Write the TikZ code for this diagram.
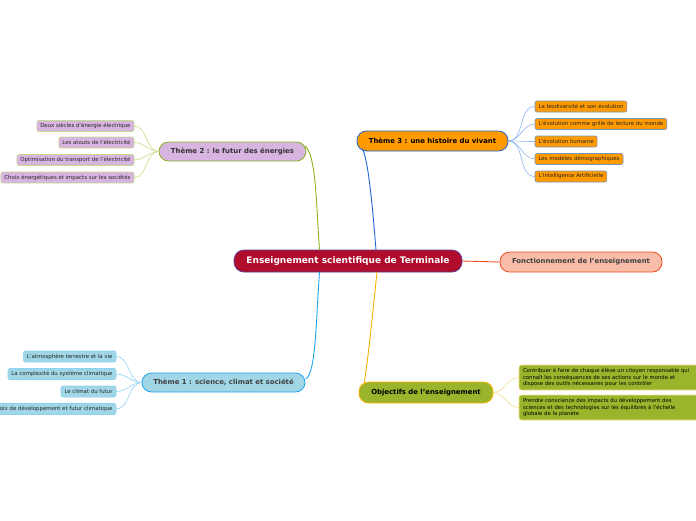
\documentclass[tikz,border=0pt]{standalone}
\usepackage{fontspec}
\setmainfont{DejaVu Sans}
\begin{document}
\begin{tikzpicture}[x=1pt,y=-1pt,
  every node/.style={inner sep=0pt, outer sep=0pt},
  mainbox/.style={draw=#1, line width=0.8pt, rounded corners=10pt, font=\fontsize{9}{10}\selectfont\bfseries, align=center},
  themebox/.style={draw=#1, line width=0.8pt, rounded corners=9.5pt, font=\fontsize{6.9}{8}\selectfont\bfseries, align=center},
  leafbox/.style={draw=#1, line width=0.6pt, rounded corners=2pt, font=\fontsize{5.4}{6.4}\selectfont, minimum height=11pt, inner xsep=3.5pt},
  textbox/.style={draw=#1, line width=0.6pt, rounded corners=2.5pt, font=\fontsize{5.3}{6.9}\selectfont, align=left, inner xsep=4pt, anchor=north west},
  conn/.style={draw=#1, line width=0.9pt},
  thin/.style={draw=#1, line width=0.6pt}
]
\definecolor{cred}{HTML}{B00C2C}
\definecolor{cblue}{HTML}{1E64D2}
\definecolor{corange}{HTML}{FF9A00}
\definecolor{cgreen}{HTML}{8CB21E}
\definecolor{clav}{HTML}{D8B4E0}
\definecolor{lgreen}{HTML}{C4DC88}
\definecolor{cltblue}{HTML}{A0D6E6}
\definecolor{csky}{HTML}{1EA4EC}
\definecolor{lsky}{HTML}{8CD2F4}
\definecolor{colive}{HTML}{9AB42C}
\definecolor{cyellow}{HTML}{F8B400}
\definecolor{lyellow}{HTML}{F8DC8C}
\definecolor{csalmon}{HTML}{F8BCA8}
\definecolor{cored}{HTML}{F0501E}
\definecolor{lblue}{HTML}{8CB4F0}
\definecolor{leafborder}{HTML}{7896C0}

\useasboundingbox (0,0) rectangle (696,520);

% central
\node[mainbox=cblue!60!cred, fill=cred, text=white, minimum width=228pt, minimum height=22pt] (c) at (348,261) {Enseignement scientifique de Terminale};

% themes
\node[themebox=cblue, fill=corange, minimum width=151pt, minimum height=20pt] (t3) at (432.5,141) {Thème 3 : une histoire du vivant};
\node[themebox=cgreen, fill=clav, text=black!80, minimum width=147pt, minimum height=19pt] (t2) at (232.5,151.5) {Thème 2 : le futur des énergies};
\node[themebox=csky, fill=cltblue, text=black!75, minimum width=163pt, minimum height=19pt] (t1) at (223.5,382.5) {Thème 1 : science, climat et société};
\node[themebox=cyellow, fill=colive, minimum width=134pt, minimum height=21pt] (ob) at (426,392.5) {Objectifs de l'enseignement};
\node[themebox=cored, fill=csalmon, text=black!75, font=\fontsize{6.9}{8}\selectfont\bfseries, minimum width=162pt, minimum height=20pt] (fo) at (581,262) {Fonctionnement de l'enseignement};

% main connectors
\coordinate (c3) at (376,250);
\coordinate (c2) at (319.5,250);
\coordinate (c1) at (319.5,272);
\coordinate (co) at (377,272);
\coordinate (e3) at (362.5,149);
\coordinate (e2) at (305,146);
\coordinate (e1) at (306,379);
\coordinate (eo) at (364,384);
\draw[conn=cblue] (c3) .. controls (372,200) and (368,160) .. (e3);
\draw[conn=cgreen] (c2) .. controls (316,200) and (316,155) .. (e2);
\draw[conn=csky] (c1) .. controls (316,320) and (316,372) .. (e1);
\draw[conn=cyellow] (co) .. controls (372,320) and (368,360) .. (eo);
\draw[conn=cored] (c.east) -- (fo.west);

% theme 3 leaves
\begin{scope}[every node/.append style={leafbox=leafborder, fill=corange, anchor=west, text=black!85}]
\node (a1) at (535,106.5) {La biodiversité et son évolution};
\node (a2) at (535,124) {L'évolution comme grille de lecture du monde};
\node (a3) at (535,141.5) {L'évolution humaine};
\node (a4) at (535,159) {Les modèles démographiques};
\node (a5) at (535,176.5) {L'intelligence Artificielle};
\end{scope}
\foreach \n in {a1,a2,a3,a4,a5}
  \draw[thin=lblue] (t3.east) to[out=0,in=180] (\n.west);

% theme 2 leaves
\begin{scope}[every node/.append style={leafbox=lgreen, fill=clav, anchor=east, text=black!85}]
\node (b1) at (134,126) {Deux siècles d'énergie électrique};
\node (b2) at (134,142.5) {Les atouts de l'électricité};
\node (b3) at (134,160) {Optimisation du transport de l'électricité};
\node (b4) at (134,177.5) {Choix énergétiques et impacts sur les sociétés};
\end{scope}
\foreach \n in {b1,b2,b3,b4}
  \draw[thin=lgreen] (t2.west) to[out=180,in=0] (\n.east);

% theme 1 leaves
\begin{scope}[every node/.append style={leafbox=lsky, fill=cltblue, anchor=east, text=black!85}]
\node (d1) at (116,356.5) {L'atmosphère terrestre et la vie};
\node (d2) at (116,374) {La complexité du système climatique};
\node (d3) at (116,391.5) {Le climat du futur};
\node (d4) at (116,409) {Choix de développement et futur climatique};
\end{scope}
\foreach \n in {d1,d2,d3,d4}
  \draw[thin=lsky] (t1.west) to[out=180,in=0] (\n.east);

% objectives leaves
\node[textbox=lyellow, fill=colive, text width=180pt, minimum height=25pt] (o1) at (519,365) {Contribuer à faire de chaque élève un citoyen responsable qui\\ connaît les conséquences de ses actions sur le monde et\\ dispose des outils nécessaires pour les contrôler};
\node[textbox=lyellow, fill=colive, text width=180pt, minimum height=25pt] (o2) at (519,395) {Prendre conscience des impacts du développement des\\ sciences et des technologies sur les équilibres à l'échelle\\ globale de la planète};
\draw[thin=lyellow] (ob.east) to[out=0,in=180] (o1.west);
\draw[thin=lyellow] (ob.east) to[out=0,in=180] (o2.west);
\end{tikzpicture}
\end{document}
